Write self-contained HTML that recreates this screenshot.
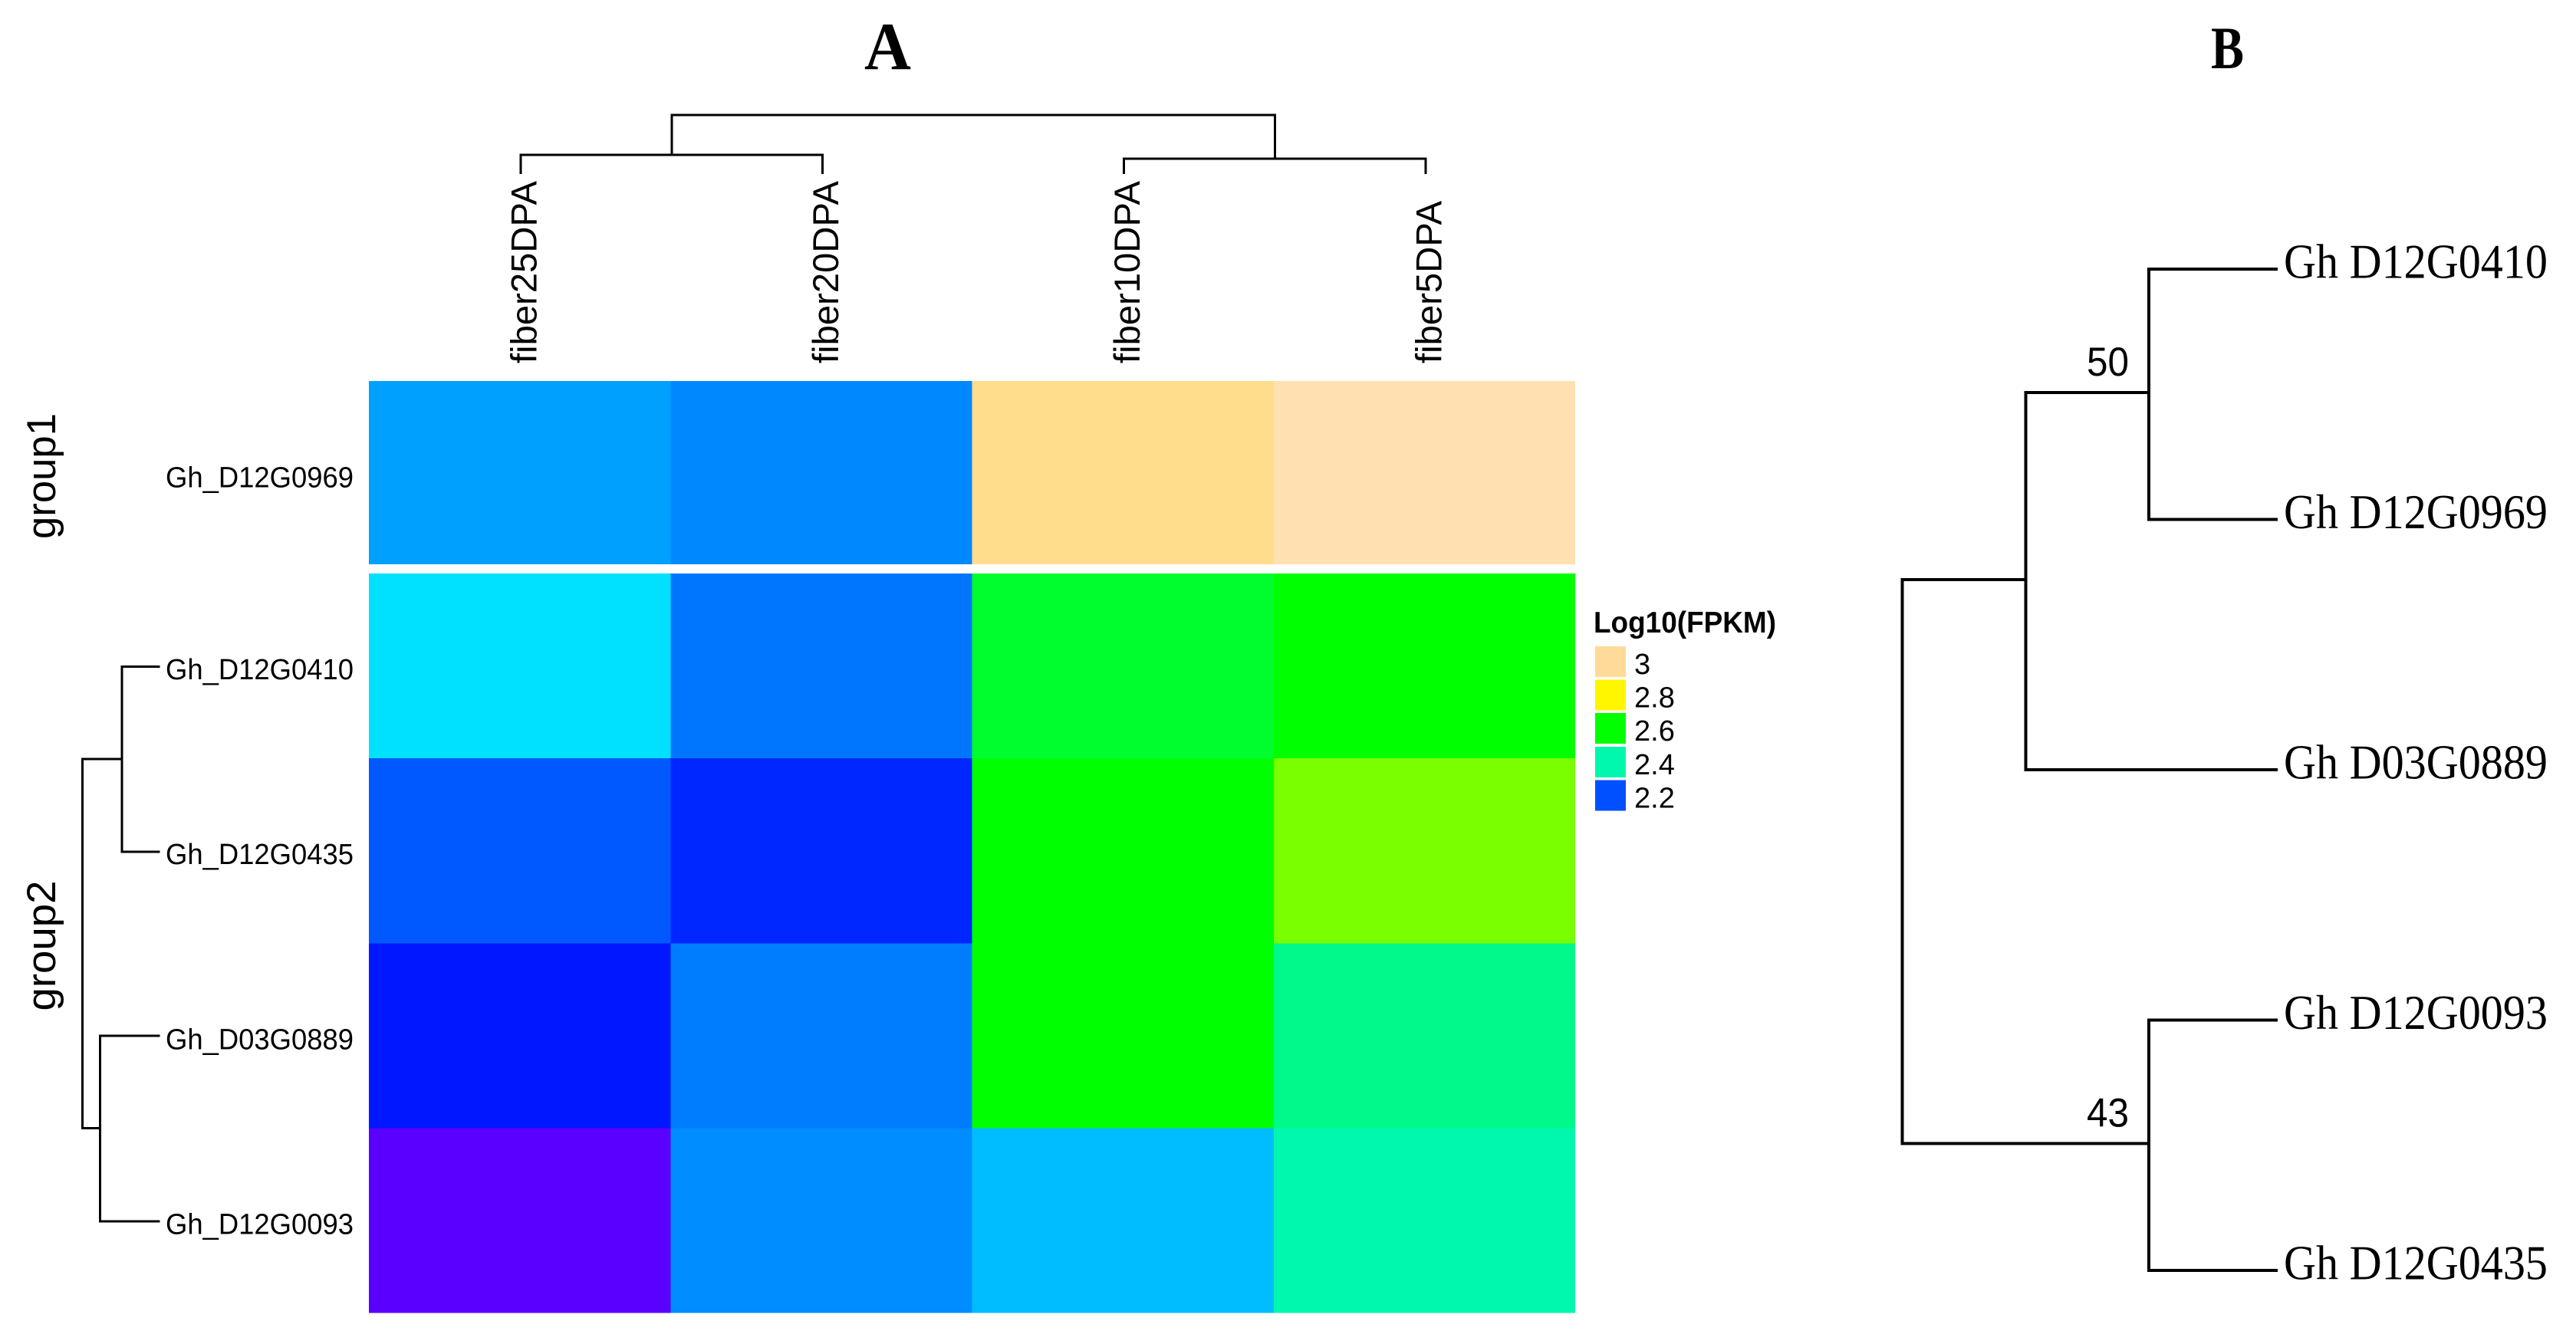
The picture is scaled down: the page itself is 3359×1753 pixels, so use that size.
<!DOCTYPE html>
<html lang="en">
<head>
<meta charset="utf-8">
<title>Heatmap and phylogenetic tree</title>
<style>
  html, body { margin: 0; padding: 0; background: #fff; }
  svg { display: block; }
  text { font-family: "Liberation Sans", Arial, sans-serif; fill: #000; }
  .serif { font-family: "Liberation Serif", "Times New Roman", serif; }
</style>
</head>
<body>
<svg id="figure" xmlns="http://www.w3.org/2000/svg" width="3359" height="1753" viewBox="0 0 3359 1753">
  <rect x="0" y="0" width="3359" height="1753" fill="#ffffff"/>
  <text class="serif" x="1127" y="90" font-size="88" font-weight="700" textLength="61" lengthAdjust="spacingAndGlyphs">A</text>
  <text class="serif" x="2883" y="89" font-size="78" font-weight="700" textLength="43" lengthAdjust="spacingAndGlyphs">B</text>
  <text transform="translate(72 703) rotate(-90)" font-size="53" textLength="164" lengthAdjust="spacingAndGlyphs">group1</text>
  <text transform="translate(72 1318.5) rotate(-90)" font-size="53" textLength="170" lengthAdjust="spacingAndGlyphs">group2</text>
  <text x="2078" y="825" font-size="39" font-weight="700" textLength="238" lengthAdjust="spacingAndGlyphs">Log10(FPKM)</text>
  <g id="heat"></g>
  <g id="col-dendro"></g>
  <g id="row-dendro"></g>
  <g id="labels"></g>
  <g id="legend"></g>
  <g id="tree"></g>
</svg>
<script>
// ---- Heatmap data ----
const conditions = ['fiber25DPA', 'fiber20DPA', 'fiber10DPA', 'fiber5DPA'];
const genes = ['Gh_D12G0969', 'Gh_D12G0410', 'Gh_D12G0435', 'Gh_D03G0889', 'Gh_D12G0093'];
const valuesD12G0969 = [2.246, 2.232, 2.983, 3.059];
const valuesD12G0410 = [2.283, 2.222, 2.548, 2.600];
const valuesD12G0435 = [2.205, 2.169, 2.600, 2.690];
const valuesD03G0889 = [2.157, 2.226, 2.600, 2.441];
const valuesD12G0093 = [2.007, 2.235, 2.262, 2.400];
const legendValues = [3, 2.8, 2.6, 2.4, 2.2];
const legendLabels = ['3', '2.8', '2.6', '2.4', '2.2'];

// ---- Colour scale stops ----
const scaleValues = [2.0, 2.14, 2.2, 2.3, 2.4, 2.6, 2.7, 2.8, 3.0, 3.1];
const scaleColors = [[95,0,255],[0,0,255],[0,80,255],[0,255,255],[0,248,174],[0,255,0],[135,255,0],[255,246,0],[255,219,153],[255,228,192]];

// ---- Dendrogram merge heights (relative) ----
const columnMergeHeights = [0.311, 0.245, 1.0];
const rowMergeHeights = [0.481, 0.767, 1.0];

// ---- Phylogenetic tree data ----
const treeTips = ['Gh D12G0410', 'Gh D12G0969', 'Gh D03G0889', 'Gh D12G0093', 'Gh D12G0435'];
const treeNodeDepths = [0.329, 0.657, 0.657, 1.0];
const bootstrapLabels = ['50', '43'];

const NS = 'http://www.w3.org/2000/svg';
const matrix = [valuesD12G0969, valuesD12G0410, valuesD12G0435, valuesD03G0889, valuesD12G0093];

function make(tag, parent) {
  const el = document.createElementNS(NS, tag);
  parent.appendChild(el);
  return el;
}
function setAll(el, props) {
  for (const k in props) el.setAttribute(k, props[k]);
}
function colorFor(v) {
  const n = scaleValues.length;
  if (v <= scaleValues[0]) return 'rgb(' + scaleColors[0].join(',') + ')';
  for (let i = 1; i < n; i++) {
    if (v <= scaleValues[i]) {
      const t = (v - scaleValues[i - 1]) / (scaleValues[i] - scaleValues[i - 1]);
      const c = scaleColors[i].map((hi, k) => Math.round(scaleColors[i - 1][k] + (hi - scaleColors[i - 1][k]) * t));
      return 'rgb(' + c.join(',') + ')';
    }
  }
  return 'rgb(' + scaleColors[n - 1].join(',') + ')';
}

// ---- Axis functions ----
const heatLeft = 481, heatRight = 2054;
const colWidth = (heatRight - heatLeft) / conditions.length;
const xBand = i => heatLeft + i * colWidth;
const xCenter = i => xBand(i) + colWidth / 2;
const group1Top = 497, group1Bottom = 736, group2Top = 748, heatBottom = 1712.5;
const group2Height = (heatBottom - group2Top) / (genes.length - 1);
const yBand = r => r === 0 ? group1Top : group2Top + (r - 1) * group2Height;
const bandHeight = r => r === 0 ? group1Bottom - group1Top : group2Height;
const yCenter = r => yBand(r) + bandHeight(r) / 2;

// ---- Heatmap cells ----
const heat = document.getElementById('heat');
matrix.forEach((row, r) => {
  row.forEach((v, c) => {
    const cell = make('rect', heat);
    setAll(cell, { x: xBand(c), y: yBand(r), width: colWidth, height: bandHeight(r), fill: colorFor(v), 'shape-rendering': 'crispEdges' });
    
    
  });
});

// ---- Labels ----
const labels = document.getElementById('labels');
const colLabelLengths = conditions.map(s => s.length === 10 ? 238 : 212);
conditions.forEach((name, i) => {
  const t = make('text', labels);
  setAll(t, { transform: 'translate(' + (xCenter(i) + 22) + ' 474) rotate(-90)', 'font-size': 47, textLength: colLabelLengths[i], lengthAdjust: 'spacingAndGlyphs' });
  t.textContent = name;
  
  
});
genes.forEach((name, r) => {
  const t = make('text', labels);
  setAll(t, { x: 216, y: yCenter(r) + (r === 0 ? 19 : 17.5), 'font-size': 38, textLength: 245, lengthAdjust: 'spacingAndGlyphs' });
  t.textContent = name;
  
  
});

// ---- Dendrograms ----
function drawPath(parent, d, width) {
  const p = make('path', parent);
  setAll(p, { d: d, fill: 'none', stroke: '#000', 'stroke-width': width, 'stroke-linecap': 'square', 'shape-rendering': 'crispEdges' });
  return p;
}
const colBase = 225.5, colSpan = 75.5, colNudge = 1.5;
const colY = h => colBase - h * colSpan;
const colDendro = document.getElementById('col-dendro');
const colLeaf = i => xCenter(i) + colNudge;
const colA = (colLeaf(0) + colLeaf(1)) / 2, colB = (colLeaf(2) + colLeaf(3)) / 2;
const colLeft = drawPath(colDendro, 'M' + colLeaf(0) + ' ' + colBase + 'V' + colY(columnMergeHeights[0]) + 'H' + colLeaf(1) + 'V' + colBase, 3);


const colRight = drawPath(colDendro, 'M' + colLeaf(2) + ' ' + colBase + 'V' + colY(columnMergeHeights[1]) + 'H' + colLeaf(3) + 'V' + colBase, 3);


const colRoot = drawPath(colDendro, 'M' + colA + ' ' + colY(columnMergeHeights[0]) + 'V' + colY(columnMergeHeights[2]) + 'H' + colB + 'V' + colY(columnMergeHeights[1]), 3);



const rowBase = 207, rowSpan = 99.7;
const rowX = h => rowBase - h * rowSpan;
const rowDendro = document.getElementById('row-dendro');
const rowA = (yCenter(1) + yCenter(2)) / 2 + 1, rowB = (yCenter(3) + yCenter(4)) / 2;
const rowTop = drawPath(rowDendro, 'M' + rowBase + ' ' + (yCenter(1) + 1) + 'H' + rowX(rowMergeHeights[0]) + 'V' + (yCenter(2) + 1.5) + 'H' + rowBase, 3);


const rowBottom = drawPath(rowDendro, 'M' + rowBase + ' ' + yCenter(3) + 'H' + rowX(rowMergeHeights[1]) + 'V' + (yCenter(4) + 1) + 'H' + rowBase, 3);


const rowRoot = drawPath(rowDendro, 'M' + rowX(rowMergeHeights[0]) + ' ' + rowA + 'H' + rowX(rowMergeHeights[2]) + 'V' + rowB + 'H' + rowX(rowMergeHeights[1]), 3);



// ---- Legend ----
const legend = document.getElementById('legend');
const legendTops = i => 843 + i * 43.6;
legendValues.forEach((v, i) => {
  const s = make('rect', legend);
  setAll(s, { x: 2080, y: legendTops(i), width: 40, height: 40, fill: colorFor(v), 'shape-rendering': 'crispEdges' });
  
  
  const t = make('text', legend);
  setAll(t, { x: 2131, y: legendTops(i) + 36, 'font-size': 38 });
  t.textContent = legendLabels[i];
  
  
});

// ---- Phylogenetic tree ----
const tree = document.getElementById('tree');
const treeRootX = 2480.7, treeTipX = 2970, treeLabelX = 2978;
const treeX = d => treeRootX + d * (treeTipX - treeRootX);
const treeTipY = i => 351 + i * 326.45;
const n1Y = (treeTipY(0) + treeTipY(1)) / 2 - 2;
const n2Y = (n1Y + treeTipY(2)) / 2 - 2;
const n3Y = (treeTipY(3) + treeTipY(4)) / 2 - 2;
const n1X = treeX(treeNodeDepths[1]), n2X = treeX(treeNodeDepths[0]), n3X = treeX(treeNodeDepths[2]), tipEnd = treeX(treeNodeDepths[3]);
const branchSets = [
  ['M' + tipEnd + ' ' + treeTipY(0) + 'H' + n1X + 'V' + treeTipY(1) + 'H' + tipEnd],
  ['M' + n1X + ' ' + n1Y + 'H' + n2X + 'V' + treeTipY(2) + 'H' + tipEnd],
  ['M' + tipEnd + ' ' + treeTipY(3) + 'H' + n3X + 'V' + treeTipY(4) + 'H' + tipEnd],
  ['M' + n2X + ' ' + n2Y + 'H' + treeRootX + 'V' + n3Y + 'H' + n3X]
];
branchSets.forEach(b => {
  const p = make('path', tree);
  setAll(p, { d: b[0], fill: 'none', stroke: '#000', 'stroke-width': 4, 'stroke-linecap': 'butt', 'stroke-linejoin': 'miter', 'shape-rendering': 'crispEdges' });
  
  
});
treeTips.forEach((name, i) => {
  const t = make('text', tree);
  t.setAttribute('class', 'serif');
  setAll(t, { x: treeLabelX, y: treeTipY(i) + 11.5, 'font-size': 64, textLength: 344, lengthAdjust: 'spacingAndGlyphs' });
  t.textContent = name;
  
  
});
const bootstrapY = [n1Y, n3Y];
bootstrapLabels.forEach((txt, i) => {
  const t = make('text', tree);
  setAll(t, { x: 2721, y: bootstrapY[i] - 22, 'font-size': 53, textLength: 55, lengthAdjust: 'spacingAndGlyphs' });
  t.textContent = txt;
  
  
});
</script>
</body>
</html>
